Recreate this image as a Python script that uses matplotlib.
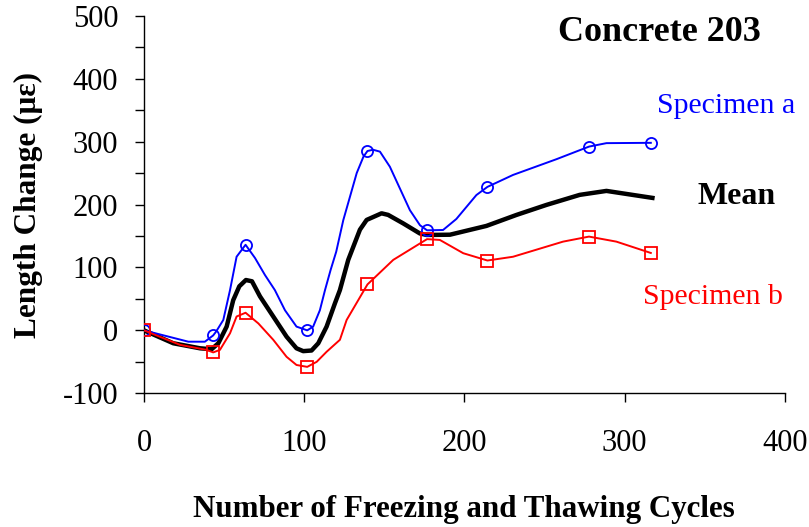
import matplotlib
matplotlib.use("Agg")
import matplotlib.pyplot as plt
from matplotlib.ticker import MultipleLocator
import numpy as np

plt.rcParams['font.family'] = ['Liberation Serif', 'DejaVu Serif']
plt.rcParams['axes.unicode_minus'] = False

# Specimen a (blue) - traced curve, markers only at measurement cycles
a_x = [0, 27.7, 38, 43.2, 45, 49.5, 53.7, 57.8, 63.4, 69.3, 75.5, 81.7, 88, 95.2,
       101.9, 105.6, 109.8, 113, 116.5, 120, 124.4, 132.8, 137, 139.5, 143, 147.3,
       153.5, 166, 172.3, 176.7, 186.7, 195, 207.5, 214.4, 230.4, 257.5, 277.8,
       288.7, 316.4]
a_y = [0, -18, -18, -8, -2, 16.5, 64, 117, 136, 115, 88, 64, 32, 6,
       0, 6, 32, 64, 96, 125, 175, 250, 276, 285, 287, 284,
       260, 191, 167, 159, 159.5, 177, 215, 228, 247, 272, 292,
       297.5, 298]
a_marks = [0, 3, 8, 14, 23, 29, 33, 36, 38]

# Specimen b (red)
b_x = [0, 22.5, 39, 43.2, 47.4, 53.7, 57.8, 63.4, 71.4, 80.7, 89, 95.2, 101.9,
       107.8, 114, 122.3, 126.5, 139.5, 155.6, 176.7, 184.7, 199.3, 214.4, 230.4,
       261.6, 277.8, 294.9, 316.4]
b_y = [0, -23, -31, -35, -31, -4.6, 22, 28, 11, -15, -42, -55, -58,
       -50, -34, -15, 16.5, 73, 112, 145, 143.7, 122.6, 111, 117,
       141, 149, 141, 123]
b_marks = [0, 3, 7, 12, 17, 19, 22, 25, 27]

# Mean (black)
m_x = [0, 18.3, 35, 42.2, 46.4, 51.6, 55.7, 59.5, 63.6, 67.4, 72.4, 80.7, 89, 95.2,
       99.4, 104.6, 108.8, 114, 119.2, 122.3, 127.5, 134.8, 139, 148.3, 152.4,
       161.8, 172.2, 176.4, 191, 213.8, 232.6, 251.3, 272, 288.7, 317.4]
m_y = [0, -20.5, -28.5, -30, -20.5, 6, 48, 70, 80, 78, 54, 22, -10, -28.5,
       -33, -32, -20.5, 6, 43, 64, 112, 160, 175.5, 186, 183.5,
       170, 154, 151.6, 152, 166, 183.5, 199.4, 215.3, 221.6, 210.5]

fig = plt.figure(figsize=(8.09, 5.27), dpi=100)
ax = fig.add_axes([0.178, 0.2537, 0.792, 0.7165])

ax.plot(a_x, a_y, color='#0000ff', lw=1.4, marker='o', markevery=a_marks,
        ms=8, mfc='none', mec='#0000ff', mew=1.3, zorder=3,
        solid_joinstyle='round')
ax.plot(b_x, b_y, color='#ff0000', lw=1.4, marker='s', markevery=b_marks,
        ms=8, mfc='none', mec='#ff0000', mew=1.3, zorder=3,
        solid_joinstyle='round')
ax.plot(m_x, m_y, color='black', lw=3.2, zorder=2, solid_joinstyle='round')

ax.set_xlim(0, 400)
ax.set_ylim(-100, 500)
ax.xaxis.set_major_locator(MultipleLocator(100))
ax.yaxis.set_major_locator(MultipleLocator(100))
ax.yaxis.set_minor_locator(MultipleLocator(50))
ax.spines['top'].set_visible(False)
ax.spines['right'].set_visible(False)
for s in ['left', 'bottom']:
    ax.spines[s].set_linewidth(1.0)
ax.tick_params(axis='both', which='both', direction='out', length=6.5, width=1.0)
ax.tick_params(axis='x', pad=19, labelsize=22)
ax.tick_params(axis='y', pad=12, labelsize=22)

ax.text(0.805, 0.9325, 'Concrete 203', transform=ax.transAxes, ha='center',
        va='baseline', fontsize=26, fontweight='bold')
ax.text(0.908, 0.742, 'Specimen a', transform=ax.transAxes, ha='center',
        va='baseline', fontsize=21.5, color='#0000ff')
ax.text(0.925, 0.501, 'Mean', transform=ax.transAxes, ha='center',
        va='baseline', fontsize=23, fontweight='bold')
ax.text(0.888, 0.236, 'Specimen b', transform=ax.transAxes, ha='center',
        va='baseline', fontsize=21.5, color='#ff0000')

fig.text(463.6 / 809, 1 - 516.7 / 527, 'Number of Freezing and Thawing Cycles',
         ha='center', va='baseline', fontsize=22.3, fontweight='bold')
fig.text(28 / 809, 1 - 205 / 527, 'Length Change (\u03bc\u03b5)', rotation=90,
         ha='center', va='center', fontsize=22.5, fontweight='bold')

fig.savefig('out.png', dpi=100)
